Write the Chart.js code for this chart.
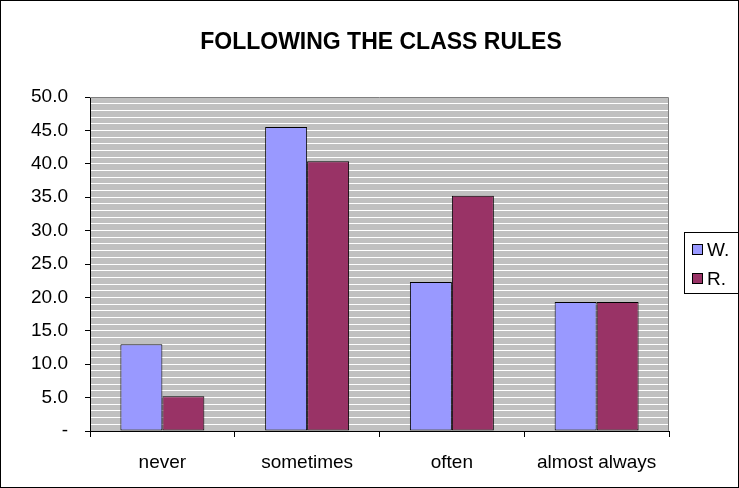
<!DOCTYPE html>
<html>
<head>
<meta charset="utf-8">
<script src="https://cdn.jsdelivr.net/npm/chart.js@4"></script>
<style>
    html, body { margin: 0; padding: 0; background: #fff; }
    #wrap { width: 739px; height: 488px; }
</style>
</head>
<body>
<div id="wrap"><canvas id="grafico" width="739" height="488"></canvas></div>
<script>
// Datos del gráfico
const categorias = ['never', 'sometimes', 'often', 'almost always'];
const serieW = [13.0, 45.5, 22.3, 19.3];
const serieR = [5.2, 40.4, 35.2, 19.3];
const nombresSeries = ['W.', 'R.'];
const titulo = 'FOLLOWING THE CLASS RULES';
const ejeMin = 0;
const ejeMax = 50;

const fuente = '"Liberation Sans", Arial, sans-serif';

// Fondo gris del área, borde, título y leyenda
const decoracion = {
    id: 'decoracion',
    beforeDraw(chart) {
        const { ctx, chartArea: a } = chart;
        ctx.save();
        ctx.fillStyle = '#fff';
        ctx.fillRect(0, 0, chart.width, chart.height);
        ctx.fillStyle = '#c0c0c0';
        ctx.fillRect(a.left, a.top, a.right - a.left, a.bottom - a.top);
        ctx.restore();
    },
    afterDraw(chart) {
        const { ctx, chartArea: a } = chart;
        ctx.save();
        // borde del área de trazado
        ctx.strokeStyle = '#808080';
        ctx.lineWidth = 1;
        ctx.beginPath();
        ctx.moveTo(a.left, a.top + 0.5);
        ctx.lineTo(a.right - 0.5, a.top + 0.5);
        ctx.lineTo(a.right - 0.5, a.bottom);
        ctx.stroke();
        // borde exterior
        ctx.strokeStyle = '#000';
        ctx.strokeRect(0.5, 0.5, chart.width - 1, chart.height - 1);
        // título
        ctx.fillStyle = '#000';
        ctx.font = 'bold 23px ' + fuente;
        ctx.textAlign = 'center';
        ctx.textBaseline = 'middle';
        ctx.fillText(titulo, 381, 43);
        // leyenda
        ctx.strokeRect(684.5, 232.5, 54, 61);
        ctx.font = '19px ' + fuente;
        ctx.textAlign = 'left';
        ctx.textBaseline = 'middle';
        chart.data.datasets.forEach((ds, i) => {
            const y = 250 + i * 29;
            ctx.fillStyle = ds.backgroundColor;
            ctx.fillRect(692, y - 6, 11, 11);
            ctx.strokeStyle = '#000';
            ctx.strokeRect(692.5, y - 5.5, 10, 10);
            ctx.fillStyle = '#000';
            ctx.fillText(ds.label, 707, y + 1);
        });
        ctx.restore();
    }
};

const ctx = document.getElementById('grafico').getContext('2d');
new Chart(ctx, {
    type: 'bar',
    data: {
        labels: categorias,
        datasets: [{
            label: nombresSeries[0],
            data: serieW,
            backgroundColor: '#9999ff',
            borderColor: '#000',
            borderWidth: 1,
            borderSkipped: false
        }, {
            label: nombresSeries[1],
            data: serieR,
            backgroundColor: '#993366',
            borderColor: '#000',
            borderWidth: 1,
            borderSkipped: false
        }]
    },
    options: {
        responsive: false,
        animation: false,
        layout: { padding: { top: 97, right: 70, left: 0, bottom: 0 } },
        plugins: {
            legend: { display: false },
            title: { display: false },
            tooltip: { enabled: false }
        },
        datasets: {
            bar: { barPercentage: 1, categoryPercentage: 0.58 }
        },
        scales: {
            x: {
                afterFit(scale) { scale.height = 57; },
                grid: {
                    offset: true,
                    drawOnChartArea: false,
                    tickLength: 6,
                    tickColor: '#000'
                },
                border: { color: '#000', width: 1 },
                ticks: {
                    color: '#000',
                    padding: 14,
                    font: { family: fuente, size: 19 }
                }
            },
            y: {
                min: ejeMin,
                max: ejeMax,
                afterFit(scale) { scale.width = 90; },
                afterBuildTicks(scale) {
                    const t = [];
                    for (let v = ejeMin; v <= ejeMax; v++) t.push({ value: v });
                    scale.ticks = t;
                },
                grid: {
                    color: '#ffffff',
                    lineWidth: 1,
                    tickLength: 5,
                    tickColor: c => (c.tick && c.tick.value % 5 === 0) ? '#000' : 'rgba(0,0,0,0)'
                },
                border: { color: '#000', width: 1 },
                ticks: {
                    color: '#000',
                    padding: 17,
                    autoSkip: false,
                    font: { family: fuente, size: 19 },
                    callback: v => v % 5 !== 0 ? '' : (v === 0 ? '-' : v.toFixed(1))
                }
            }
        }
    },
    plugins: [decoracion]
});
</script>
</body>
</html>
